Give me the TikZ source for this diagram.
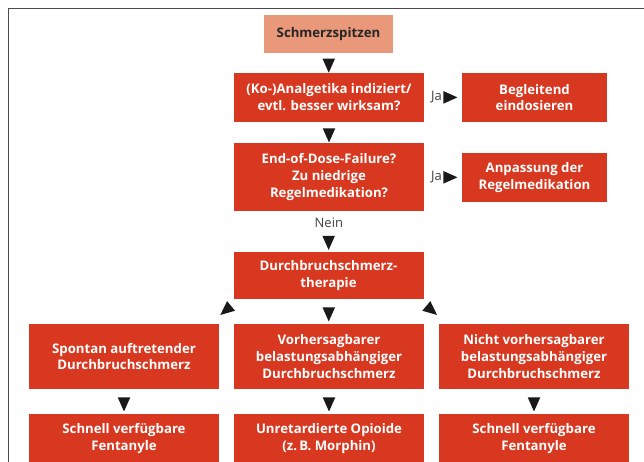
\documentclass[tikz,border=0pt]{standalone}
\usepackage{fontspec}
\setmainfont{Open Sans}
\usetikzlibrary{shapes.geometric,positioning}
\definecolor{schmerzrot}{HTML}{D8381F}
\definecolor{lachs}{HTML}{E9987A}
\definecolor{rahmen}{HTML}{4A4A4A}
\begin{document}
\begin{tikzpicture}[x=1pt,y=-1pt,line join=round,line cap=round]
			\tikzset{kasten/.style={fill=schmerzrot,text=white,align=center,inner sep=0pt,
					font=\bfseries\fontsize{13.2}{16.7}\selectfont,minimum width=190pt,minimum height=49pt},
				pfeil/.style={isosceles triangle,isosceles triangle stretches,fill=black!90,
					inner sep=0pt,outer sep=0pt,minimum width=12.5pt,minimum height=14pt},
				hinweis/.style={text=black!75,inner sep=0pt,font=\fontsize{13}{14}\selectfont}}
			\useasboundingbox (0,0) rectangle (644,461);
			% Rahmen (nur links und oben sichtbar)
			\draw[rahmen,line width=1.8pt,line join=miter,line cap=butt] (8.5,470)--(8.5,8.5)--(650,8.5);
			% Obere Kette
			\node[kasten,fill=lachs,text=black!85,minimum width=129pt,minimum height=37.5pt] (spitzen) at (328.5,34) {Schmerzspitzen};
			\node[kasten] (analg) at (329,97.2) {(Ko-)Analgetika indiziert/\\evtl. besser wirksam?};
			\node[kasten,minimum width=145pt] (begleit) at (534.5,97.5) {Begleitend\\eindosieren};
			\node[kasten,minimum height=67.5pt] (eod) at (329,177) {End-of-Dose-Failure?\\Zu niedrige\\Regelmedikation?};
			\node[kasten,minimum width=145pt] (anpass) at (534.5,177.5) {Anpassung der\\Regelmedikation};
			\node[kasten,minimum height=47pt] (dbs) at (328.5,275.5) {Durchbruchschmerz-\\therapie};
			% Zwei Reihen unten
			\node[kasten,minimum height=65pt] (spontan) at (124,356.5) {Spontan auftretender\\Durchbruchschmerz};
			\node[kasten,minimum height=65pt] (vorher) at (329,356.5) {Vorhersagbarer\\belastungsabhängiger\\Durchbruchschmerz};
			\node[kasten,minimum height=65pt] (nicht) at (534,356.5) {Nicht vorhersagbarer\\belastungsabhängiger\\Durchbruchschmerz};
			\node[kasten] (spontan-th) at (124,438.5) {Schnell verfügbare\\Fentanyle};
			\node[kasten] (vorher-th) at (329,438.5) {Unretardierte Opioide\\(z.\,B. Morphin)};
			\node[kasten] (nicht-th) at (534,438.5) {Schnell verfügbare\\Fentanyle};
			% Pfeile nach unten
			\foreach \von/\nach in {spitzen/analg,analg/eod,dbs/vorher,spontan/spontan-th,vorher/vorher-th,nicht/nicht-th}{
				\path (\von.south)--(\nach.north) node[pfeil,midway,rotate=-90] {};
			}
			% Ja-Pfeile
			\path (analg.east)--(begleit.west) node[pfeil,pos=0.62] (ja1) {};
			\node[hinweis,left=1.5pt of ja1] (ja1-t) {Ja};
			\path (eod.east)--(anpass.west) node[pfeil,pos=0.62] (ja2) {};
			\node[hinweis,left=1.5pt of ja2] (ja2-t) {Ja};
			\path (eod.south)--(dbs.north) node[hinweis,pos=0.3] (nein) {Nein}
				node[pfeil,pos=0.71,rotate=-90] (pf3) {};
			% schraege Pfeile
			\path (dbs.south west)--(spontan.north east) node[pfeil,pos=0.38,rotate=220] (pf5) {};
			\path (dbs.south east)--(nicht.north west) node[pfeil,pos=0.38,rotate=-40] (pf6) {};
		\end{tikzpicture}
\end{document}
